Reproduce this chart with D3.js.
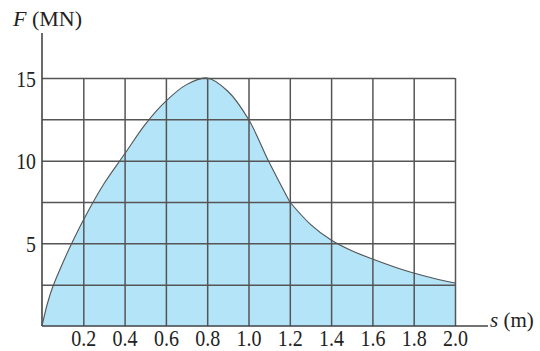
<!DOCTYPE html>
<html><head><meta charset="utf-8">
<script src="https://cdn.jsdelivr.net/npm/d3@7"></script>
<style>
html,body{margin:0;padding:0;background:#fff;}
svg{display:block;}
text{font-family:"Liberation Serif","Times New Roman",serif;fill:#222;}
</style></head>
<body>
<svg id="chart" width="540" height="351"></svg>
<script>
const sValues = [0, 0.025, 0.05, 0.1, 0.15, 0.2, 0.3, 0.4, 0.5, 0.6, 0.7, 0.8, 0.9, 1.0, 1.1, 1.2, 1.3, 1.4, 1.5, 1.6, 1.7, 1.8, 1.9, 2.0];
const fValues = [0, 1.3, 2.3, 3.8, 5.15, 6.4, 8.6, 10.4, 12.2, 13.6, 14.6, 15, 14.2, 12.5, 9.9, 7.5, 6.15, 5.2, 4.55, 4.05, 3.6, 3.2, 2.87, 2.6];
const xTicks = [0.2, 0.4, 0.6, 0.8, 1.0, 1.2, 1.4, 1.6, 1.8, 2.0];
const yGrid = [2.5, 5, 7.5, 10, 12.5, 15];
const yLabels = [5, 10, 15];
const kinkS = 1.2;

const data = sValues.map((s, i) => ({s, f: fValues[i]}));
const seg1 = data.filter(d => d.s <= kinkS);
const seg2 = data.filter(d => d.s >= kinkS);

const svg = d3.select("#chart");
const x = d3.scaleLinear().domain([0, 2]).range([42, 455]);
const y = d3.scaleLinear().domain([0, 15]).range([326, 78]);

const curve = d3.curveCatmullRom.alpha(0.5);
const area = d3.area().x(d => x(d.s)).y0(y(0)).y1(d => y(d.f)).curve(curve);
const line = d3.line().x(d => x(d.s)).y(d => y(d.f)).curve(curve);

[seg1, seg2].forEach(seg => {
  svg.append("path").datum(seg).attr("d", area)
    .attr("fill", "#b4e4f8").attr("stroke", "#b4e4f8").attr("stroke-width", 0.6);
});

// vertical grid + x labels via axis
const gx = svg.append("g").attr("transform", `translate(0,${y(0)})`)
  .call(d3.axisBottom(x).tickValues(xTicks).tickSize(-(y(0) - y(15))).tickPadding(0)
    .tickFormat(d3.format(".1f")));
gx.select(".domain").remove();
gx.selectAll(".tick line").attr("stroke", "#555").attr("stroke-width", 1.5);
gx.selectAll(".tick text")
  .attr("y", 0).attr("dy", null)
  .attr("transform", "translate(0,20) scale(0.87,1)")
  .attr("font-size", 23).attr("fill", "#222");

// horizontal grid + y labels via axis
const gy = svg.append("g").attr("transform", `translate(${x(0)},0)`)
  .call(d3.axisLeft(y).tickValues(yGrid).tickSize(-(x(2) - x(0))).tickPadding(0)
    .tickFormat(d => yLabels.includes(d) ? String(d) : ""));
gy.select(".domain").remove();
gy.selectAll(".tick line").attr("stroke", "#555").attr("stroke-width", 1.5);
gy.selectAll(".tick text")
  .attr("x", 0).attr("dy", null).attr("text-anchor", "end")
  .attr("transform", "translate(-6,8) scale(0.86,1)")
  .attr("font-size", 23).attr("fill", "#222");

// axes lines
svg.append("line").attr("x1", x(0)).attr("x2", x(0)).attr("y1", y(0)).attr("y2", 33)
  .attr("stroke", "#444").attr("stroke-width", 1.6);
svg.append("line").attr("x1", x(0)).attr("x2", 488).attr("y1", y(0)).attr("y2", y(0))
  .attr("stroke", "#444").attr("stroke-width", 1.6);

// curve
[seg1, seg2].forEach(seg => {
  svg.append("path").datum(seg).attr("d", line)
    .attr("fill", "none").attr("stroke", "#555").attr("stroke-width", 1.1);
});

// axis titles
const t1 = svg.append("text").attr("x", 13).attr("y", 26).attr("font-size", 22);
t1.append("tspan").attr("font-style", "italic").text("F");
t1.append("tspan").text(" (MN)");
const t2 = svg.append("text").attr("x", 490).attr("y", 327).attr("font-size", 21);
t2.append("tspan").attr("font-style", "italic").text("s");
t2.append("tspan").text(" (m)");
</script>
</body></html>
